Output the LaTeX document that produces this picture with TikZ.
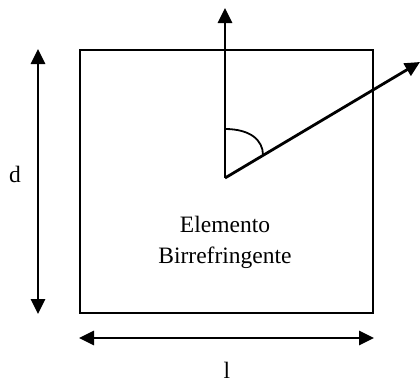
\documentclass[tikz,border=0pt]{standalone}
\usepackage{fontspec}
\setmainfont{Liberation Serif}
\usetikzlibrary{arrows.meta,positioning,calc}

\begin{document}
\begin{tikzpicture}[x=1pt, y=-1pt, >={Triangle[length=15pt,width=14pt]},
  vec/.style={->, line width=2.8pt},
  dim/.style={<->, line width=2.8pt},
  lbl/.style={font=\fontsize{23.5}{31}\selectfont, inner sep=0pt}]
\useasboundingbox (0,0) rectangle (420,383);
\node[draw, line width=2pt, minimum width=293pt, minimum height=263pt, inner sep=0pt] (elem) at (226.5,181.5) {};
\coordinate (o) at (225,178);
\coordinate (up) at (225,8);
\coordinate (obl) at (420,62);
\draw[vec] (o) -- (up);
\draw[vec] (o) -- (obl);
\draw[line width=1.8pt] (225,129) .. controls (250,129) and (263,140) .. (263,155);
\node[lbl, align=center] (name) at (225,242) {Elemento\\Birrefringente};
\draw[dim] ([xshift=-41pt]elem.north west) -- ([xshift=-41pt]elem.south west);
\draw[dim] ([yshift=-24pt]elem.south west) -- ([yshift=-24pt]elem.south east);
\node[lbl] (dlab) at (15,174) {d};
\node[lbl] (llab) at (227,370) {l};
\end{tikzpicture}
\end{document}
